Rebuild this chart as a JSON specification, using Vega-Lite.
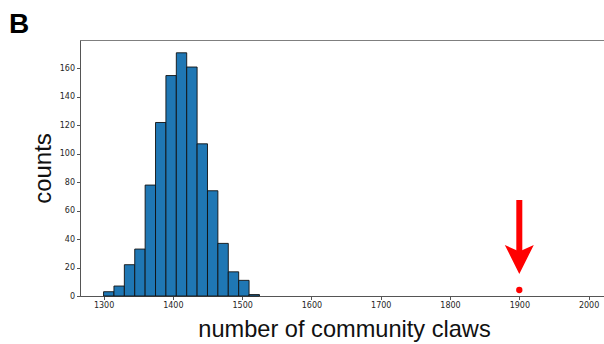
{
  "$schema": "https://vega.github.io/schema/vega-lite/v6.json",
  "width": 528,
  "height": 256,
  "autosize": "none",
  "padding": {"left": 80, "top": 40, "right": 0, "bottom": 48},
  "background": "white",
  "config": {
    "view": {"stroke": "#7f7f7f", "strokeWidth": 1},
    "font": "DejaVu Sans",
    "axis": {"labelOverlap": false, "labelBound": false, "labelFlush": false}
  },
  "title": {
    "text": "B",
    "anchor": "start",
    "frame": "group",
    "font": "Liberation Sans",
    "fontSize": 28,
    "fontWeight": "bold",
    "color": "black",
    "dx": -71,
    "dy": 3,
    "offset": 4
  },
  "datasets": {
    "hist": [
      {"claws": 1300, "claws_end": 1315, "count": 3},
      {"claws": 1315, "claws_end": 1330, "count": 7},
      {"claws": 1330, "claws_end": 1345, "count": 22},
      {"claws": 1345, "claws_end": 1360, "count": 33},
      {"claws": 1360, "claws_end": 1375, "count": 78},
      {"claws": 1375, "claws_end": 1390, "count": 122},
      {"claws": 1390, "claws_end": 1405, "count": 155},
      {"claws": 1405, "claws_end": 1420, "count": 171},
      {"claws": 1420, "claws_end": 1435, "count": 161},
      {"claws": 1435, "claws_end": 1450, "count": 107},
      {"claws": 1450, "claws_end": 1465, "count": 74},
      {"claws": 1465, "claws_end": 1480, "count": 37},
      {"claws": 1480, "claws_end": 1495, "count": 17},
      {"claws": 1495, "claws_end": 1510, "count": 11},
      {"claws": 1510, "claws_end": 1525, "count": 1}
    ],
    "observed": [{"claws": 1900, "count": 4.2}],
    "arrow_shaft": [{"claws": 1900, "count": 67.5, "count_end": 29}],
    "arrow_head": [{"claws": 1900, "count": 25.7}]
  },
  "encoding": {
    "x": {
      "field": "claws",
      "type": "quantitative",
      "scale": {"domain": [1266, 2028], "nice": false, "zero": false},
      "axis": {
        "title": "number of community claws",
        "values": [1300, 1400, 1500, 1600, 1700, 1800, 1900, 2000],
        "format": "d",
        "grid": false,
        "labelOverlap": false,
        "labelFont": "DejaVu Sans",
        "labelFontSize": 8,
        "labelColor": "#262626",
        "labelPadding": 2,
        "tickSize": 3.5,
        "tickColor": "#555555",
        "domainColor": "#555555",
        "titleFont": "Liberation Sans",
        "titleFontSize": 23.6,
        "titleFontWeight": "normal",
        "titleColor": "#111111",
        "titlePadding": 8
      }
    },
    "y": {
      "field": "count",
      "type": "quantitative",
      "scale": {"domain": [0, 180], "nice": false},
      "axis": {
        "title": "counts",
        "values": [0, 20, 40, 60, 80, 100, 120, 140, 160],
        "format": "d",
        "grid": false,
        "labelOverlap": false,
        "labelFont": "DejaVu Sans",
        "labelFontSize": 8,
        "labelColor": "#262626",
        "labelPadding": 2,
        "tickSize": 3.5,
        "tickColor": "#555555",
        "domainColor": "#555555",
        "titleFont": "Liberation Sans",
        "titleFontSize": 24,
        "titleFontWeight": "normal",
        "titleColor": "#111111",
        "titlePadding": 4
      }
    }
  },
  "layer": [
    {
      "data": {"name": "hist"},
      "mark": {"type": "rect", "fill": "#1f77b4", "stroke": "#111111", "strokeWidth": 0.9},
      "encoding": {
        "x2": {"field": "claws_end"},
        "y2": {"datum": 0}
      }
    },
    {
      "data": {"name": "observed"},
      "mark": {"type": "point", "shape": "circle", "filled": true, "color": "#ff0000", "size": 40, "opacity": 1}
    },
    {
      "data": {"name": "arrow_shaft"},
      "mark": {"type": "rule", "color": "#ff0000", "strokeWidth": 6},
      "encoding": {
        "y2": {"field": "count_end"}
      }
    },
    {
      "data": {"name": "arrow_head"},
      "mark": {"type": "point", "shape": "M0,1L-1,-1L0,-0.55L1,-1Z", "filled": true, "color": "#ff0000", "size": 841, "opacity": 1, "strokeWidth": 0}
    }
  ]
}
